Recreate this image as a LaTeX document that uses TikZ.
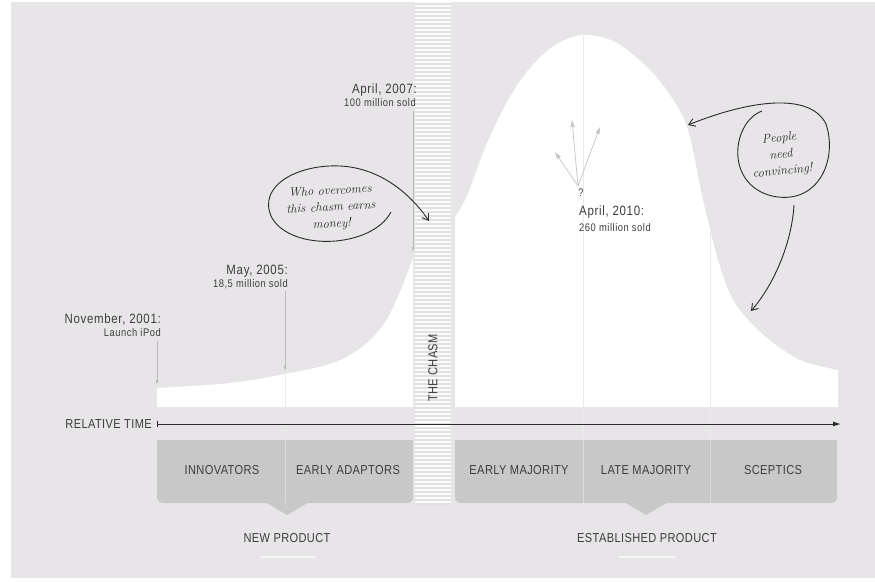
\documentclass[tikz,border=0pt]{standalone}
\usepackage{fontspec}
\newfontfamily\cond{Liberation Sans}[FakeStretch=0.85,LetterSpace=3]
\newfontfamily\datefont{Liberation Sans}[FakeStretch=0.85,LetterSpace=5]
\usetikzlibrary{arrows.meta}
\definecolor{bg}{HTML}{E7E5E7}
\definecolor{boxgray}{HTML}{C9C8C9}
\definecolor{txt}{HTML}{3E3E3E}
\definecolor{ink}{HTML}{2A2A2A}
\definecolor{divw}{HTML}{EAEAEA}
\definecolor{divb}{HTML}{DCDBDC}
\definecolor{stripe}{HTML}{E2E1E2}
\begin{document}
\begin{tikzpicture}[x=1pt,y=-1pt,
  lbl/.style={font={\datefont\fontsize{13.5}{14}\selectfont}, text=txt, inner sep=0pt},
  sub/.style={font={\datefont\fontsize{11}{12}\selectfont}, text=txt, inner sep=0pt},
  cat/.style={font={\cond\fontsize{13}{14}\selectfont}, text=txt, inner sep=0pt},
  hand/.style={font={\rmfamily\itshape\fontsize{12.5}{16.5}\selectfont}, text=ink, align=center, inner sep=0pt},
  datearrow/.style={draw=gray!55, line width=0.6pt, -{Latex[length=5pt,width=3pt]}},
  grayarrow/.style={draw=gray!45, line width=0.7pt, -{Triangle[length=7pt,width=4pt]}},
  handline/.style={draw=ink, line width=0.9pt},
  divline/.style={line width=0.8pt}]
\useasboundingbox (0,0) rectangle (875,581);
\fill[white] (0,0) rectangle (875,581);
\fill[bg] (11,2) rectangle (875,578);

% chasm strip
\fill[white!97!gray] (415,2) rectangle (451,505);
\foreach \i in {4,8,...,504} \draw[stripe, line width=1.1pt] (415,\i) -- (451,\i);

% white area under left curve
\fill[white] (157,407) -- plot[smooth, tension=0.55] coordinates {(157,388) (230,383) (285,374) (333,363) (362,347) (384,324) (400,292) (413,258)}
  -- (413,407) -- cycle;

% white bell
\fill[white] (455,407) -- plot[smooth, tension=0.55] coordinates {(455,217) (467,196) (485,148) (507,102) (530,68) (555,45) (583,35) (615,42) (647,67) (670,95) (688,130) (703,200) (718,260) (733,300) (755,327) (780,348) (805,362) (838,370)}
  -- (838,407) -- cycle;

% dividers in white
\draw[divw, divline] (285,373) -- (285,440);
\draw[divw, divline] (583,36) -- (583,440);
\draw[divw, divline] (710,228) -- (710,440);

% boxes
\fill[boxgray, rounded corners=6pt] (157,440) rectangle (413,503);
\fill[boxgray] (157,440) rectangle (413,470);
\fill[boxgray] (265,502) -- (287,515) -- (309,502) -- cycle;
\fill[boxgray, rounded corners=6pt] (455,440) rectangle (837,503);
\fill[boxgray] (455,440) rectangle (837,470);
\fill[boxgray] (624,502) -- (646,515) -- (668,502) -- cycle;
\draw[divb, divline] (285,440) -- (285,503);
\draw[divb, divline] (583,440) -- (583,503);
\draw[divb, divline] (710,440) -- (710,503);

% category labels
\node[cat] (inn) at (222,470) {INNOVATORS};
\node[cat] (ead) at (348,470) {EARLY ADAPTORS};
\node[cat] (emj) at (519,470) {EARLY MAJORITY};
\node[cat] (lmj) at (646,470) {LATE MAJORITY};
\node[cat] (sce) at (773,470) {SCEPTICS};
\node[cat] (newp) at (287,538) {NEW PRODUCT};
\node[cat] (estp) at (647,538) {ESTABLISHED PRODUCT};
\draw[white!92!gray, line width=1.2pt] (260,557) -- (316,557);
\draw[white!92!gray, line width=1.2pt] (618,557) -- (676,557);

% chasm label
\node[cat, rotate=90] (chasm) at (433,368) {THE CHASM};

% axis
\node[cat, anchor=east] (rt) at (152,424) {RELATIVE TIME};
\coordinate (axs) at (157,424);
\coordinate (axe) at (841,424);
\draw[draw=ink, line width=1pt, {Bar[width=6pt]}-{Latex[length=8pt,width=5pt]}] (axs) -- (axe);

% date labels
\node[lbl, anchor=base east] (a07) at (417,93) {April, 2007:};
\node[sub, anchor=base east] (a07s) at (416,106) {100 million sold};
\node[lbl, anchor=base east] (m05) at (288,274) {May, 2005:};
\node[sub, anchor=base east] (m05s) at (288,287) {18,5 million sold};
\node[lbl, anchor=base east] (n01) at (161,323) {November, 2001:};
\node[sub, anchor=base east] (n01s) at (161,336) {Launch iPod};
\coordinate (a07t) at (413,252);
\coordinate (m05t) at (285,371);
\coordinate (n01t) at (157,385);
\draw[datearrow] (413,111) -- (a07t);
\draw[datearrow] (285,291) -- (m05t);
\draw[datearrow] (157,341) -- (n01t);

% peak annotation
\node[sub, anchor=base] (qm) at (581,196) {?};
\node[lbl, anchor=base west] (a10) at (579,215) {April, 2010:};
\node[sub, anchor=base west] (a10s) at (579,231) {260 million sold};
\coordinate (fan) at (578,186);
\coordinate (f1) at (555,152);
\coordinate (f2) at (572,120);
\coordinate (f3) at (600,127);
\draw[grayarrow] (fan) -- (f1);
\draw[grayarrow] (fan) -- (f2);
\draw[grayarrow] (fan) -- (f3);

% callout 1
\node[hand, rotate=3] (c1) at (331,208) {Who overcomes\\this chasm earns\\money!};
\coordinate (c1tip) at (429,221);
\draw[handline, -{Straight Barb[length=6pt,width=8pt]}]
  (391,212) .. controls (372,248) and (292,252) .. (272,218)
  .. controls (256,186) and (298,164) .. (340,166)
  .. controls (382,168) and (412,196) .. (c1tip);

% callout 2
\node[hand, rotate=6] (c2) at (781,155) {People\\need\\convincing!};
\coordinate (c2tip) at (688,125);
\coordinate (c2tip2) at (751,311);
\draw[handline, -{Straight Barb[length=6pt,width=8pt]}]
  (762,111) .. controls (732,122) and (724,184) .. (772,196)
  .. controls (818,206) and (838,160) .. (826,124)
  .. controls (810,92) and (750,100) .. (c2tip);
\draw[handline, -{Straight Barb[length=6pt,width=8pt]}]
  (794,205) .. controls (792,240) and (776,282) .. (c2tip2);
\end{tikzpicture}
\end{document}
